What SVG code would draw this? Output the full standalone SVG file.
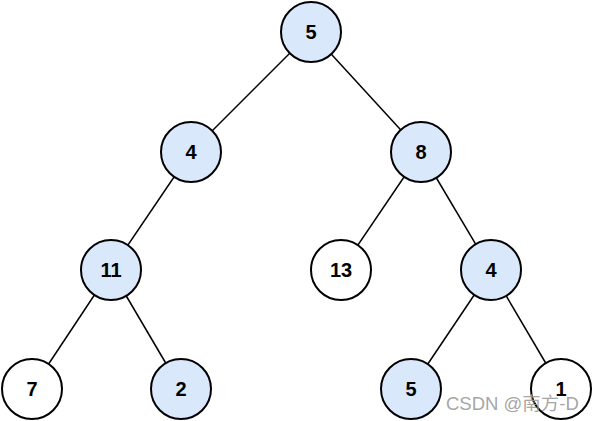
<svg xmlns="http://www.w3.org/2000/svg" width="592" height="421" viewBox="0 0 592 421">
<style>
.n circle{stroke:#000;stroke-width:2}
.b circle{fill:#dae8fc}
.w circle{fill:#fff}
.n text{font-family:"Liberation Sans",Arial,sans-serif;font-weight:bold;font-size:20px;text-anchor:middle;fill:#000}
#edges line{stroke:#000;stroke-width:1.5}
</style>
<rect width="592" height="421" fill="#fff"/>
<g id="edges">
<line x1="311" y1="32" x2="191" y2="152"/>
<line x1="311" y1="32" x2="421" y2="152"/>
<line x1="191" y1="152" x2="111" y2="270"/>
<line x1="421" y1="152" x2="341" y2="270"/>
<line x1="421" y1="152" x2="491" y2="270"/>
<line x1="111" y1="270" x2="32" y2="389"/>
<line x1="111" y1="270" x2="181" y2="389"/>
<line x1="491" y1="270" x2="411" y2="389"/>
<line x1="491" y1="270" x2="561" y2="389"/>
</g>
<g id="n5" class="n b"><circle cx="311" cy="32" r="30"/><text x="311" y="39">5</text></g>
<g id="n4" class="n b"><circle cx="191" cy="152" r="30"/><text x="191" y="159">4</text></g>
<g id="n8" class="n b"><circle cx="421" cy="152" r="30"/><text x="421" y="159">8</text></g>
<g id="n11" class="n b"><circle cx="111" cy="270" r="30"/><text x="111" y="277">11</text></g>
<g id="n13" class="n w"><circle cx="341" cy="270" r="30"/><text x="341" y="277">13</text></g>
<g id="n4b" class="n b"><circle cx="491" cy="270" r="30"/><text x="491" y="277">4</text></g>
<g id="n7" class="n w"><circle cx="32" cy="389" r="30"/><text x="32" y="396">7</text></g>
<g id="n2" class="n b"><circle cx="181" cy="389" r="30"/><text x="181" y="396">2</text></g>
<g id="n5b" class="n b"><circle cx="411" cy="389" r="30"/><text x="411" y="396">5</text></g>
<g id="n1" class="n w"><circle cx="561" cy="389" r="30"/><text x="561" y="396">1</text></g>
<text x="446" y="410" font-family="'Liberation Sans','Noto Sans CJK SC',sans-serif" font-size="18.5" fill="#9a9a9a" fill-opacity="0.9">CSDN @南方-D</text>
</svg>
